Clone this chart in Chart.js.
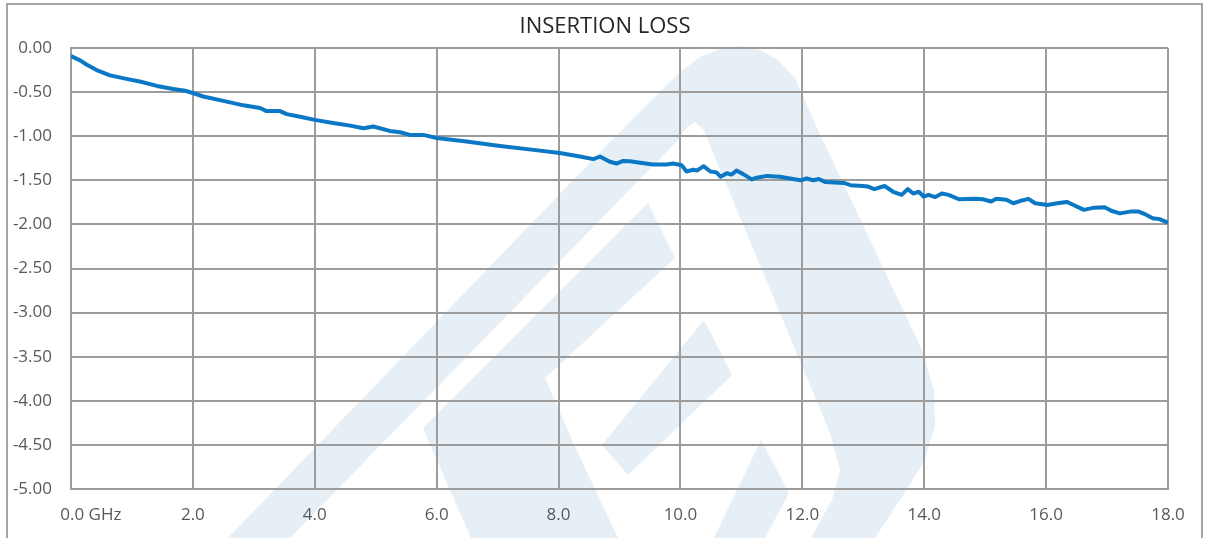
<!DOCTYPE html>
<html>
<head>
<meta charset="utf-8">
<script src="https://cdn.jsdelivr.net/npm/chart.js@4"></script>
<style>
    html, body { margin: 0; padding: 0; background: #fff; }
    #wrap { width: 1210px; height: 538px; }
</style>
</head>
<body>
<div id="wrap"><canvas id="lossChart" width="1210" height="538"></canvas></div>
<script>
// frequency (GHz) and insertion loss (dB)
const freqs = [0.00, 0.15, 0.26, 0.42, 0.64, 0.91, 1.13, 1.41, 1.68, 1.87,
    2.00, 2.17, 2.50, 2.83, 3.10, 3.21, 3.43, 3.54, 3.76, 4.00,
    4.30, 4.58, 4.80, 4.96, 5.23, 5.40, 5.56, 5.78, 6.00, 6.49,
    7.04, 7.59, 8.02, 8.35, 8.57, 8.68, 8.84, 8.95, 9.06, 9.17,
    9.34, 9.55, 9.77, 9.88, 10.02, 10.10, 10.21, 10.27, 10.38, 10.49,
    10.59, 10.66, 10.76, 10.84, 10.92, 11.03, 11.17, 11.25, 11.42, 11.63,
    11.80, 11.97, 12.07, 12.18, 12.27, 12.38, 12.68, 12.79, 12.99, 13.07,
    13.18, 13.35, 13.49, 13.63, 13.73, 13.82, 13.91, 13.99, 14.07, 14.18,
    14.29, 14.40, 14.57, 14.85, 14.96, 15.10, 15.18, 15.35, 15.46, 15.57,
    15.71, 15.82, 16.02, 16.18, 16.34, 16.45, 16.62, 16.79, 16.96, 17.07,
    17.21, 17.38, 17.52, 17.64, 17.75, 17.86, 17.95, 18.00];
const loss = [-0.09, -0.14, -0.19, -0.25, -0.31, -0.35, -0.38, -0.43, -0.465, -0.485,
    -0.51, -0.55, -0.60, -0.65, -0.68, -0.715, -0.715, -0.75, -0.78, -0.815,
    -0.85, -0.88, -0.91, -0.89, -0.94, -0.955, -0.985, -0.985, -1.02, -1.06,
    -1.11, -1.155, -1.19, -1.23, -1.26, -1.23, -1.29, -1.31, -1.28, -1.285,
    -1.30, -1.32, -1.32, -1.31, -1.33, -1.40, -1.38, -1.39, -1.34, -1.40,
    -1.41, -1.46, -1.42, -1.435, -1.39, -1.43, -1.49, -1.47, -1.45, -1.46,
    -1.48, -1.50, -1.48, -1.50, -1.485, -1.52, -1.53, -1.555, -1.565, -1.57,
    -1.60, -1.565, -1.63, -1.665, -1.60, -1.65, -1.63, -1.685, -1.665, -1.69,
    -1.65, -1.665, -1.715, -1.71, -1.715, -1.74, -1.71, -1.72, -1.76, -1.735,
    -1.71, -1.76, -1.78, -1.76, -1.745, -1.78, -1.835, -1.81, -1.805, -1.845,
    -1.875, -1.855, -1.855, -1.89, -1.93, -1.94, -1.965, -1.98];
const xTickLabels = ['         0.0 GHz', '2.0', '4.0', '6.0', '8.0', '10.0', '12.0', '14.0', '16.0', '18.0'];
const yTickLabels = ['-5.00', '-4.50', '-4.00', '-3.50', '-3.00', '-2.50', '-2.00', '-1.50', '-1.00', '-0.50', '0.00'];

const gridColor = '#9c9c9c';
const textColor = '#595959';
const fontFamily = '"Open Sans", "Liberation Sans", sans-serif';

// faint logo behind the plot + outer frame
const backdrop = {
    id: 'backdrop',
    beforeDraw(chart) {
        const ctx = chart.ctx;
        ctx.save();
        ctx.fillStyle = '#ffffff';
        ctx.fillRect(0, 0, chart.width, chart.height);
        ctx.fillStyle = 'rgb(230,238,246)';
        const shapes = [
            [[228,538],[612,140],[680,72],[700,57],[720,49],[740,46],[760,50],[778,60],[795,78],[818,130],
             [922,350],[934,390],[935,425],[925,460],[905,492],[875,538],
             [811,538],[832,500],[840,470],[830,433],[712,150],[704,130],[695,122],[686,128],[678,140],[290,538]],
            [[423,428],[648,203],[675,258],[545,378],[572,440],[600,500],[618,538],[471,538]],
            [[704,320],[732,375],[628,475],[602,445]],
            [[761,440],[789,493],[765,538],[714,538]]
        ];
        shapes.forEach(function (pts) {
            ctx.beginPath();
            pts.forEach(function (p, i) {
                if (i === 0) ctx.moveTo(p[0], p[1]); else ctx.lineTo(p[0], p[1]);
            });
            ctx.closePath();
            ctx.fill();
        });
        ctx.strokeStyle = '#a6a6a6';
        ctx.lineWidth = 2;
        ctx.strokeRect(7, 4, 1195, 600);
        ctx.restore();
    }
};

function drawLossChart(DOMelement) {
    const points = freqs.map(function (f, i) { return { x: f, y: loss[i] }; });
    return new Chart(DOMelement, {
        type: 'line',
        data: {
            datasets: [{
                label: 'Insertion loss',
                data: points,
                borderColor: '#0a78c4',
                borderWidth: 4,
                borderJoinStyle: 'round',
                pointRadius: 0,
                tension: 0,
                fill: false
            }]
        },
        options: {
            responsive: false,
            animation: false,
            layout: { padding: 0 },
            scales: {
                x: {
                    type: 'linear',
                    min: 0,
                    max: 18,
                    afterFit: function (scale) { scale.height = 49; },
                    afterBuildTicks: function (scale) {
                        scale.ticks = xTickLabels.map(function (_, i) { return { value: i * 2 }; });
                    },
                    ticks: {
                        autoSkip: false,
                        maxRotation: 0,
                        padding: 16,
                        color: textColor,
                        font: { family: fontFamily, size: 17 },
                        callback: function (v, i) { return xTickLabels[i]; }
                    },
                    grid: { color: gridColor, lineWidth: 2, drawTicks: false },
                    border: { color: gridColor, width: 2 }
                },
                y: {
                    type: 'linear',
                    min: -5,
                    max: 0,
                    afterFit: function (scale) { scale.width = 71; },
                    afterBuildTicks: function (scale) {
                        scale.ticks = yTickLabels.map(function (_, i) { return { value: -5 + i * 0.5 }; });
                    },
                    ticks: {
                        padding: 19,
                        color: textColor,
                        font: { family: fontFamily, size: 17 },
                        callback: function (v, i) { return yTickLabels[i]; }
                    },
                    grid: { color: gridColor, lineWidth: 2, drawTicks: false },
                    border: { color: gridColor, width: 2 }
                },
                // empty right margin so the title centres on the whole frame
                spacer: {
                    type: 'linear',
                    position: 'right',
                    min: -5,
                    max: 0,
                    afterFit: function (scale) { scale.width = 42; },
                    ticks: { display: false },
                    grid: { display: false, drawTicks: false },
                    border: { display: false }
                }
            },
            plugins: {
                legend: { display: false },
                tooltip: { enabled: false },
                title: {
                    display: true,
                    text: 'INSERTION LOSS',
                    color: '#262626',
                    font: { family: fontFamily, size: 22, weight: 'normal' },
                    padding: { top: 14, bottom: 7.6 }
                }
            }
        },
        plugins: [backdrop]
    });
}

drawLossChart(document.getElementById('lossChart'));
</script>
</body>
</html>
